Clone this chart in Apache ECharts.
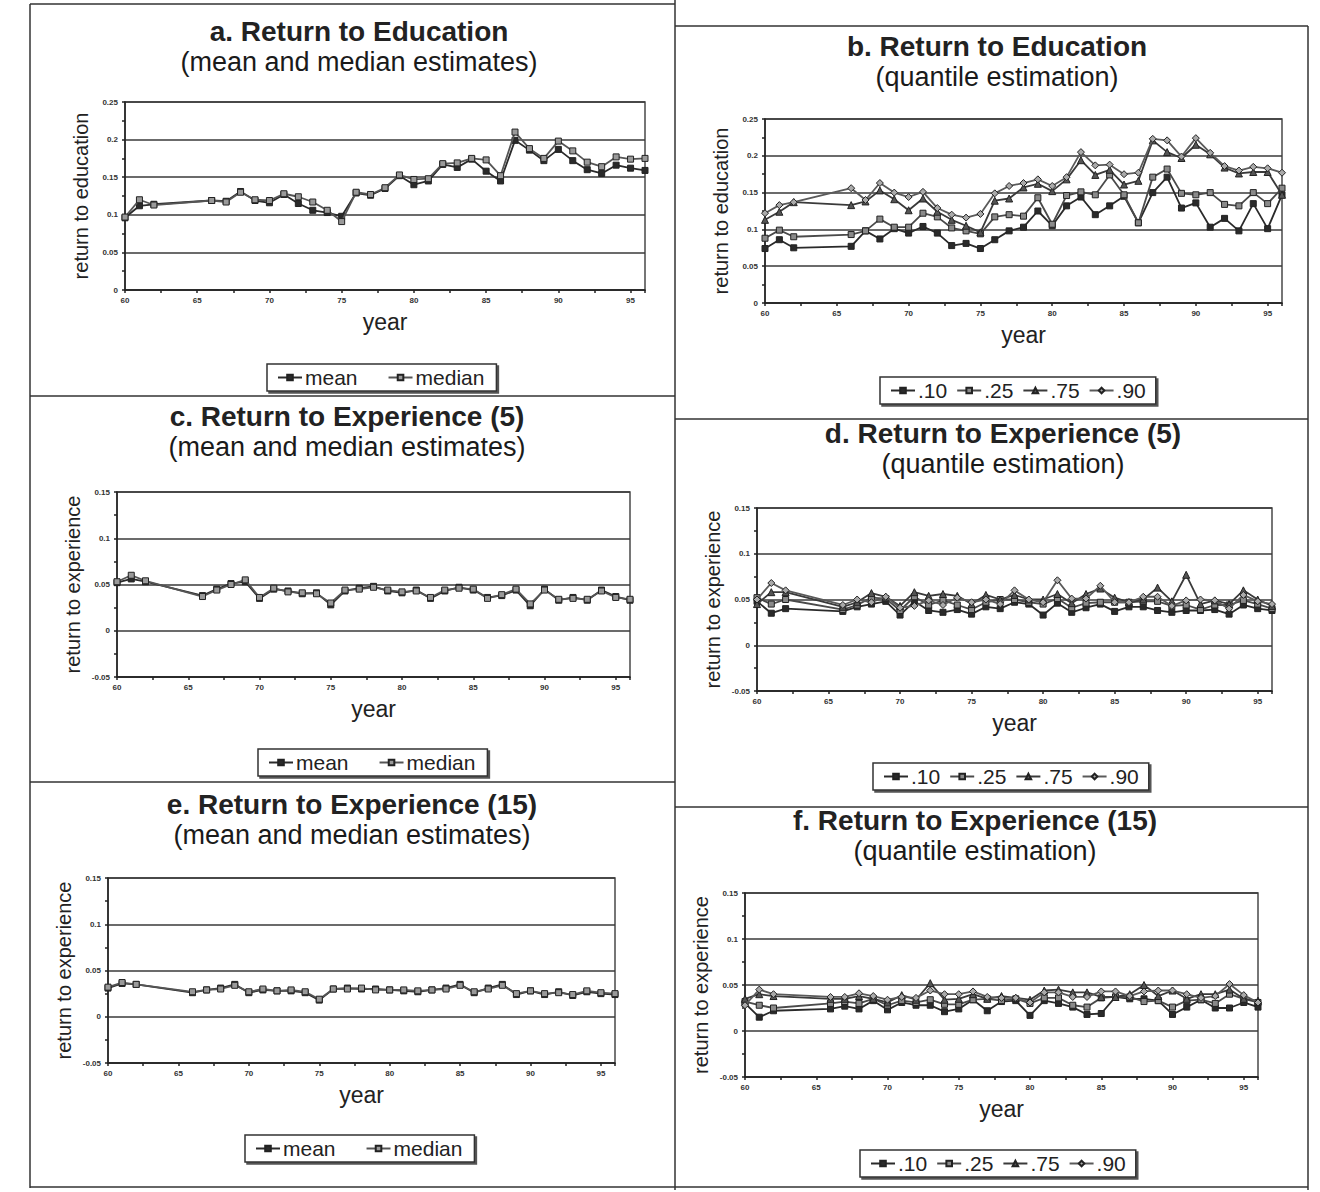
<!DOCTYPE html>
<html><head><meta charset="utf-8">
<script src="https://cdn.jsdelivr.net/npm/echarts@6/dist/echarts.min.js"></script>
<style>html,body{margin:0;padding:0;background:#fff}#c{width:1320px;height:1192px}</style>
</head><body><div id="c"></div>
<script>
// ---------------- DATA ----------------
const years = [60,61,62,66,67,68,69,70,71,72,73,74,75,76,77,78,79,80,81,82,83,84,85,86,87,88,89,90,91,92,93,94,95,96];
const xTickLabels = ['60','65','70','75','80','85','90','95'];

// a. Return to Education (mean / median)
const eduMean   = [0.096,0.112,0.114,0.119,0.118,0.131,0.119,0.116,0.127,0.115,0.106,0.103,0.098,0.129,0.126,0.135,0.152,0.140,0.145,0.167,0.163,0.174,0.158,0.145,0.199,0.186,0.172,0.187,0.172,0.160,0.155,0.166,0.162,0.159];
const eduMedian = [0.097,0.120,0.113,0.119,0.117,0.130,0.120,0.119,0.128,0.124,0.117,0.106,0.091,0.130,0.127,0.136,0.153,0.147,0.148,0.168,0.169,0.175,0.173,0.152,0.210,0.188,0.175,0.198,0.185,0.170,0.164,0.177,0.174,0.175];

// b. Return to Education (quantiles)
const eduQ10 = [0.074,0.086,0.075,0.077,0.098,0.087,0.101,0.095,0.104,0.095,0.078,0.081,0.074,0.086,0.098,0.103,0.125,0.105,0.132,0.144,0.120,0.132,0.145,0.109,0.150,0.171,0.129,0.136,0.103,0.115,0.098,0.135,0.101,0.147];
const eduQ25 = [0.088,0.099,0.090,0.093,0.098,0.114,0.103,0.103,0.122,0.117,0.102,0.098,0.094,0.117,0.120,0.118,0.143,0.107,0.146,0.151,0.147,0.174,0.147,0.109,0.171,0.182,0.149,0.147,0.150,0.134,0.132,0.150,0.135,0.156];
const eduQ75 = [0.113,0.124,0.137,0.133,0.138,0.153,0.141,0.126,0.142,0.124,0.113,0.105,0.096,0.139,0.142,0.157,0.162,0.152,0.168,0.194,0.174,0.181,0.161,0.166,0.221,0.205,0.197,0.215,0.202,0.184,0.176,0.178,0.178,0.147];
const eduQ90 = [0.122,0.133,0.137,0.156,0.140,0.163,0.150,0.144,0.151,0.129,0.120,0.116,0.121,0.149,0.159,0.163,0.168,0.159,0.171,0.205,0.187,0.188,0.175,0.177,0.223,0.221,0.199,0.224,0.204,0.186,0.180,0.185,0.183,0.177];

// c. Return to Experience (5) (mean / median)
const exp5Mean   = [0.052,0.056,0.053,0.038,0.045,0.051,0.053,0.035,0.045,0.043,0.040,0.041,0.028,0.043,0.046,0.048,0.043,0.041,0.044,0.035,0.043,0.047,0.044,0.036,0.038,0.044,0.027,0.045,0.033,0.036,0.033,0.044,0.037,0.033];
const exp5Median = [0.053,0.060,0.054,0.037,0.044,0.050,0.055,0.036,0.046,0.042,0.041,0.040,0.030,0.044,0.045,0.047,0.044,0.042,0.043,0.036,0.044,0.046,0.045,0.035,0.039,0.045,0.029,0.044,0.034,0.035,0.034,0.043,0.036,0.034];

// d. Return to Experience (5) (quantiles)
const exp5Q10 = [0.048,0.035,0.040,0.037,0.042,0.045,0.048,0.033,0.048,0.038,0.036,0.039,0.034,0.042,0.040,0.047,0.045,0.033,0.046,0.036,0.041,0.045,0.037,0.042,0.042,0.038,0.036,0.038,0.038,0.039,0.034,0.044,0.040,0.038];
const exp5Q25 = [0.052,0.045,0.050,0.039,0.044,0.052,0.051,0.038,0.053,0.044,0.049,0.044,0.039,0.047,0.050,0.050,0.047,0.045,0.051,0.041,0.046,0.047,0.047,0.047,0.048,0.048,0.043,0.044,0.039,0.044,0.044,0.049,0.045,0.040];
const exp5Q75 = [0.045,0.058,0.058,0.042,0.047,0.057,0.053,0.043,0.058,0.054,0.056,0.054,0.045,0.055,0.050,0.055,0.050,0.050,0.056,0.046,0.056,0.062,0.052,0.047,0.050,0.063,0.048,0.077,0.045,0.049,0.045,0.060,0.050,0.043];
const exp5Q90 = [0.050,0.068,0.060,0.044,0.050,0.047,0.053,0.041,0.043,0.049,0.044,0.052,0.047,0.050,0.045,0.060,0.050,0.047,0.071,0.051,0.051,0.065,0.047,0.047,0.053,0.053,0.043,0.049,0.050,0.049,0.040,0.055,0.048,0.045];

// e. Return to Experience (15) (mean / median)
const exp15Mean   = [0.031,0.036,0.035,0.026,0.029,0.031,0.035,0.026,0.029,0.028,0.028,0.026,0.018,0.030,0.031,0.030,0.030,0.029,0.028,0.027,0.029,0.031,0.035,0.026,0.031,0.035,0.024,0.028,0.024,0.027,0.023,0.027,0.025,0.024];
const exp15Median = [0.032,0.037,0.035,0.027,0.029,0.030,0.034,0.027,0.030,0.028,0.029,0.027,0.019,0.030,0.030,0.031,0.029,0.029,0.029,0.028,0.029,0.030,0.034,0.027,0.030,0.034,0.025,0.028,0.025,0.026,0.024,0.028,0.026,0.025];

// f. Return to Experience (15) (quantiles)
const exp15Q10 = [0.030,0.015,0.022,0.024,0.027,0.024,0.033,0.023,0.031,0.028,0.028,0.021,0.024,0.034,0.022,0.032,0.033,0.017,0.033,0.030,0.026,0.018,0.019,0.037,0.035,0.035,0.033,0.018,0.026,0.034,0.025,0.025,0.031,0.026];
const exp15Q25 = [0.032,0.028,0.025,0.030,0.032,0.030,0.035,0.028,0.033,0.031,0.034,0.029,0.029,0.034,0.035,0.033,0.035,0.030,0.036,0.036,0.028,0.026,0.036,0.037,0.037,0.032,0.033,0.026,0.033,0.034,0.030,0.040,0.035,0.031];
const exp15Q75 = [0.035,0.040,0.038,0.035,0.035,0.038,0.035,0.031,0.039,0.034,0.052,0.034,0.035,0.040,0.035,0.038,0.036,0.034,0.044,0.045,0.042,0.042,0.037,0.037,0.040,0.050,0.038,0.044,0.035,0.040,0.040,0.045,0.035,0.033];
const exp15Q90 = [0.028,0.045,0.040,0.037,0.037,0.041,0.038,0.034,0.037,0.036,0.044,0.040,0.040,0.043,0.037,0.036,0.036,0.031,0.042,0.042,0.037,0.037,0.043,0.043,0.038,0.043,0.044,0.044,0.040,0.036,0.038,0.051,0.039,0.031];

const mmNames = ['mean','median'];
const qNames = ['.10','.25','.75','.90'];
const eduTicks = ['0','0.05','0.1','0.15','0.2','0.25'];
const expTicks = ['-0.05','0','0.05','0.1','0.15'];

// ---------------- LAYOUT ----------------
const FONT = '"Liberation Sans", Arial, sans-serif';
const panels = [
  {title:'a. Return to Education', sub:'(mean and median estimates)', tx:359, ty:31, grid:{left:125, top:102, width:520, height:188}, yname:'return to education', ymin:0, ymax:0.25, names:mmNames, data:[eduMean, eduMedian], legend:{left:267, top:364}},
  {title:'b. Return to Education', sub:'(quantile estimation)', tx:997, ty:46, grid:{left:765, top:119, width:517, height:184}, yname:'return to education', ymin:0, ymax:0.25, names:qNames, data:[eduQ10, eduQ25, eduQ75, eduQ90], legend:{left:880, top:377}},
  {title:'c. Return to Experience (5)', sub:'(mean and median estimates)', tx:347, ty:416, grid:{left:117, top:492, width:513, height:185}, yname:'return to experience', ymin:-0.05, ymax:0.15, names:mmNames, data:[exp5Mean, exp5Median], legend:{left:258, top:749}},
  {title:'d. Return to Experience (5)', sub:'(quantile estimation)', tx:1003, ty:433, grid:{left:757, top:508, width:515, height:183}, yname:'return to experience', ymin:-0.05, ymax:0.15, names:qNames, data:[exp5Q10, exp5Q25, exp5Q75, exp5Q90], legend:{left:873, top:763}},
  {title:'e. Return to Experience (15)', sub:'(mean and median estimates)', tx:352, ty:804, grid:{left:108, top:878, width:507, height:185}, yname:'return to experience', ymin:-0.05, ymax:0.15, names:mmNames, data:[exp15Mean, exp15Median], legend:{left:245, top:1135}},
  {title:'f. Return to Experience (15)', sub:'(quantile estimation)', tx:975, ty:820, grid:{left:745, top:893, width:513, height:184}, yname:'return to experience', ymin:-0.05, ymax:0.15, names:qNames, data:[exp15Q10, exp15Q25, exp15Q75, exp15Q90], legend:{left:860, top:1150}}
];

const symStyles = {
  'mean':   {symbol:'rect', size:6, fill:'#2a2a2a', line:'#2a2a2a'},
  'median': {symbol:'rect', size:6, fill:'#9a9a9a', line:'#555555'},
  '.10':    {symbol:'rect', size:6, fill:'#2a2a2a', line:'#2a2a2a'},
  '.25':    {symbol:'rect', size:6, fill:'#8a8a8a', line:'#4a4a4a'},
  '.75':    {symbol:'triangle', size:7, fill:'#555555', line:'#3a3a3a'},
  '.90':    {symbol:'diamond', size:7, fill:'#aaaaaa', line:'#5a5a5a'}
};

const option = {
  animation:false,
  backgroundColor:'#fff',
  textStyle:{fontFamily:FONT},
  grid:[], xAxis:[], yAxis:[], series:[], legend:[], graphic:[]
};

panels.forEach((p, i) => {
  option.grid.push(Object.assign({show:true, borderColor:'#4a4a4a', borderWidth:1.5, backgroundColor:'transparent', containLabel:false}, p.grid));
  const ticks = p.ymin === 0 ? eduTicks : expTicks;
  option.xAxis.push({
    type:'value', gridIndex:i, min:60, max:96, interval:5,
    name:'year', nameLocation:'middle', nameGap:20,
    nameTextStyle:{fontSize:23, color:'#222', fontFamily:FONT},
    axisLine:{show:true, onZero:false, lineStyle:{color:'#222', width:1.5}},
    axisTick:{show:true, length:3, inside:false, lineStyle:{color:'#222', width:1.5}},
    minorTick:{show:true, splitNumber:2, length:3, lineStyle:{color:'#222', width:1.5}},
    splitLine:{show:false},
    axisLabel:{showMaxLabel:false, fontSize:8, fontWeight:'bold', color:'#333', margin:6,
      formatter:(v)=>{const k=xTickLabels.indexOf(String(v)); return k>=0?xTickLabels[k]:'';}}
  });
  option.yAxis.push({
    type:'value', gridIndex:i, min:p.ymin, max:p.ymax, interval:0.05,
    name:p.yname, nameLocation:'middle', nameGap:34, nameRotate:90,
    nameTextStyle:{fontSize:20, color:'#222', fontFamily:FONT},
    axisLine:{show:true, onZero:false, lineStyle:{color:'#222', width:1.5}},
    axisTick:{show:true, length:3, lineStyle:{color:'#222', width:1.5}},
    minorTick:{show:true, splitNumber:2, length:3, lineStyle:{color:'#222', width:1.5}},
    splitLine:{show:true, lineStyle:{color:'#3a3a3a', width:1.5}},
    axisLabel:{fontSize:8, fontWeight:'bold', color:'#333', margin:7,
      formatter:(v)=>{const s=(Math.round(v*100)/100).toString(); return ticks.indexOf(s)>=0?s:'';}}
  });
  p.names.forEach((nm, k) => {
    const st = symStyles[nm];
    option.series.push({
      type:'line', name:nm, xAxisIndex:i, yAxisIndex:i,
      data: years.map((y, j) => [y, p.data[k][j]]),
      symbol:st.symbol, symbolSize:st.size, showAllSymbol:true,
      lineStyle:{color:st.line, width:1.8},
      itemStyle:{color:st.fill, borderColor:'#222', borderWidth:1},
      z: 3 + k
    });
  });
  option.legend.push({
    data:p.names, left:p.legend.left, top:p.legend.top, orient:'horizontal',
    borderColor:'#333', borderWidth:1.5, backgroundColor:'#fff',
    shadowColor:'#555', shadowOffsetX:2, shadowOffsetY:2, shadowBlur:0,
    padding: p.names.length === 2 ? [3, 12, 3, 10] : [3, 10, 3, 10],
    itemGap: p.names.length === 2 ? 30 : 9,
    itemWidth:24, itemHeight:7,
    textStyle:{fontSize:21, color:'#222', fontFamily:FONT, padding:[0,0,0,-2]},
    selectedMode:false
  });
  option.graphic.push({type:'text', x:p.tx, y:p.ty, style:{text:p.title, font:'bold 28px ' + FONT, fill:'#222', textAlign:'center', textVerticalAlign:'middle'}});
  option.graphic.push({type:'text', x:p.tx, y:p.ty+31, style:{text:p.sub, font:'27px ' + FONT, fill:'#1a1a1a', textAlign:'center', textVerticalAlign:'middle'}});
});

// panel frame lines
const frame = [
  [30,4,675,4],[675,26,1308,26],
  [30,4,30,1188],[675,0,675,1190],[1308,26,1308,1190],
  [30,396,675,396],[30,782,675,782],
  [675,419,1308,419],[675,807,1308,807],
  [30,1187,1308,1187]
];
frame.forEach(f => option.graphic.push({type:'line', shape:{x1:f[0],y1:f[1],x2:f[2],y2:f[3]}, style:{stroke:'#333', lineWidth:1.5}, silent:true}));

const chart = echarts.init(document.getElementById('c'), null, {renderer:'svg', width:1320, height:1192});
chart.setOption(option);
</script>
</body></html>
